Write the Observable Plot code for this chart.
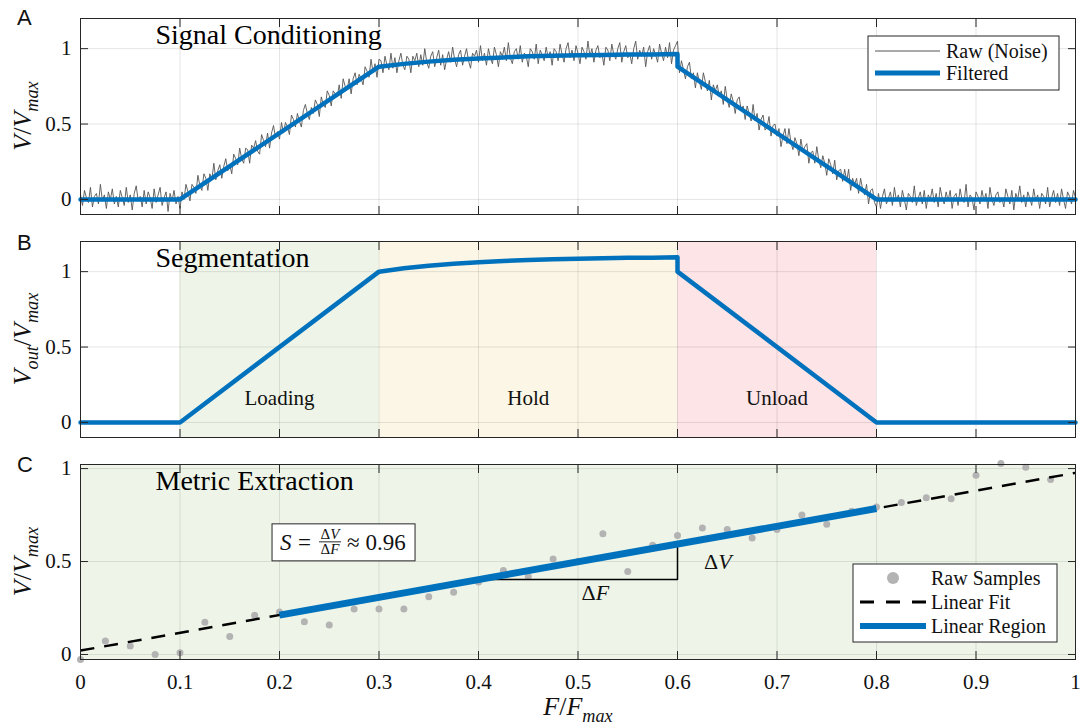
<!DOCTYPE html>
<html>
<head>
<meta charset="utf-8">
<script src="https://cdn.jsdelivr.net/npm/d3@7"></script>
<script src="https://cdn.jsdelivr.net/npm/@observablehq/plot@0.6"></script>
<style>
html,body{margin:0;padding:0;background:#fff;}
#root{position:relative;width:1081px;height:727px;overflow:hidden;background:#fff;}
.panel{position:absolute;left:0;}
.panel svg{display:block;overflow:visible;}
</style>
</head>
<body>
<div id="root">
  <div class="panel" id="pA" style="top:0px"></div>
  <div class="panel" id="pB" style="top:228px"></div>
  <div class="panel" id="pC" style="top:450px"></div>
</div>
<script>
const FONT = "'Liberation Serif','Times New Roman',serif";
const SANS = "'Liberation Sans',Arial,sans-serif";
const BLUE = "#0072BD";
const INK = "#262626";

// ---------- ticks & texts ----------
const xTicks = [0, 0.1, 0.2, 0.3, 0.4, 0.5, 0.6, 0.7, 0.8, 0.9, 1];
const xTickLabels = ["0", "0.1", "0.2", "0.3", "0.4", "0.5", "0.6", "0.7", "0.8", "0.9", "1"];
const yTicks = [0, 0.5, 1];
const yTickLabels = ["0", "0.5", "1"];
const panelLetters = ["A", "B", "C"];
const panelTitles = ["Signal Conditioning", "Segmentation", "Metric Extraction"];

// ---------- panel A : raw (noisy) and filtered signal ----------
const rawStart = 0, rawStep = 0.002;
const rawV = [
  // 0 – 0.1
  0.03,-0.04,0.06,0.01,-0.02,0.08,-0.05,0.02,0.04,-0.03,
  0.10,-0.01,0.03,-0.06,0.05,0.00,0.07,-0.03,0.02,-0.05,
  0.06,0.01,-0.04,0.08,-0.02,0.03,-0.07,0.04,0.09,-0.01,
  0.02,-0.05,0.06,-0.03,0.05,0.01,-0.06,0.07,-0.02,0.03,
  0.08,-0.04,0.01,0.05,-0.08,0.04,-0.01,0.06,-0.03,0.02,
  -0.06,
  // 0.1 – 0.3 loading
  0.05,0.00,0.10,0.05,-0.01,0.10,0.08,0.04,0.16,0.09,
  0.06,0.17,0.14,0.06,0.17,0.13,0.24,0.13,0.19,0.23,
  0.14,0.22,0.27,0.19,0.23,0.17,0.30,0.27,0.23,0.34,
  0.27,0.24,0.34,0.33,0.24,0.36,0.34,0.39,0.32,0.30,
  0.43,0.39,0.35,0.44,0.34,0.44,0.49,0.41,0.45,0.40,
  0.51,0.44,0.51,0.48,0.43,0.56,0.53,0.48,0.57,0.52,
  0.48,0.59,0.63,0.57,0.53,0.61,0.57,0.66,0.63,0.55,
  0.68,0.63,0.61,0.72,0.69,0.62,0.72,0.70,0.68,0.76,
  0.67,0.80,0.75,0.73,0.80,0.70,0.80,0.84,0.76,0.83,
  0.80,0.76,0.88,0.85,0.81,0.93,0.84,0.90,0.81,0.93,
  // 0.3 – 0.6 hold
  0.92,0.84,0.95,0.89,0.86,0.97,0.87,0.94,0.84,0.92,
  0.97,0.89,0.86,0.95,0.93,0.84,0.95,0.92,0.97,0.88,
  0.96,0.89,1.00,0.91,0.87,0.95,0.98,0.88,0.94,0.99,
  0.89,0.96,0.86,0.93,0.98,0.91,1.01,0.93,0.88,0.96,
  0.99,0.89,0.95,1.00,0.92,0.87,0.97,0.95,0.99,0.91,
  1.02,0.92,0.97,0.89,1.00,0.94,0.90,1.01,0.96,0.88,
  0.98,0.95,1.01,0.92,1.04,0.94,0.90,0.98,1.00,0.93,
  1.02,0.91,0.97,0.95,0.88,1.00,0.98,0.93,1.03,0.90,
  0.99,0.96,0.92,1.01,0.94,0.98,0.89,1.00,0.98,0.92,
  1.03,0.96,0.91,1.00,1.04,0.94,0.99,0.92,1.02,0.97,
  0.90,1.01,0.98,0.93,1.05,0.95,1.00,0.91,0.99,1.02,
  0.94,0.97,0.89,1.01,0.99,0.92,1.03,0.96,0.93,1.00,
  1.04,0.91,0.98,1.02,0.94,0.97,0.90,1.00,1.05,0.93,
  0.99,0.95,1.01,0.88,0.98,1.02,0.93,1.00,0.96,0.91,
  1.03,0.97,0.92,1.01,0.94,1.04,0.90,0.99,1.02,1.05,
  // 0.6 – 0.8 unload
  0.84,0.92,0.86,0.80,0.88,0.91,0.80,0.84,0.74,0.84,
  0.78,0.73,0.84,0.78,0.72,0.79,0.66,0.76,0.72,0.76,
  0.68,0.72,0.63,0.75,0.66,0.61,0.70,0.65,0.57,0.66,
  0.68,0.59,0.62,0.53,0.62,0.57,0.52,0.63,0.52,0.57,
  0.46,0.53,0.56,0.46,0.48,0.55,0.42,0.49,0.50,0.42,
  0.47,0.35,0.42,0.47,0.37,0.47,0.38,0.33,0.41,0.37,
  0.29,0.40,0.32,0.35,0.37,0.24,0.31,0.32,0.24,0.35,
  0.26,0.21,0.29,0.24,0.16,0.27,0.23,0.17,0.26,0.13,
  0.19,0.20,0.12,0.20,0.12,0.20,0.06,0.14,0.10,0.14,
  0.04,0.14,0.07,0.03,0.10,-0.03,0.06,0.07,-0.02,-0.05,
  // 0.8 – 1
  0.04,-0.06,0.02,0.07,-0.03,0.01,0.05,-0.04,0.08,-0.01,
  0.03,-0.05,0.06,0.00,-0.07,0.04,0.02,-0.02,0.09,-0.04,
  0.01,0.05,-0.03,0.06,-0.06,0.03,0.00,0.07,-0.02,0.04,
  -0.05,0.08,0.01,-0.03,0.05,-0.01,0.06,-0.06,0.02,0.04,
  -0.04,0.07,0.00,-0.02,0.10,-0.05,0.03,0.01,-0.07,0.05,
  0.02,-0.03,0.06,-0.01,0.04,-0.06,0.08,0.00,-0.04,0.03,
  0.05,-0.02,0.01,-0.05,0.07,0.02,-0.03,0.06,-0.07,0.04,
  0.00,0.09,-0.02,0.03,-0.05,0.05,0.01,-0.04,0.07,-0.01,
  0.03,-0.06,0.04,0.02,-0.03,0.08,-0.05,0.01,0.06,-0.02,
  0.04,-0.04,0.07,0.00,-0.06,0.05,0.02,-0.03,0.06,0.01
];
const filtX = [0, 0.1, 0.3, 0.325, 0.35, 0.375, 0.4, 0.425, 0.45, 0.475, 0.5, 0.525, 0.55, 0.575, 0.6, 0.6, 0.8, 1];
const filtV = [0, 0, 0.88, 0.899, 0.914, 0.927, 0.935, 0.942, 0.949, 0.953, 0.956, 0.958, 0.961, 0.962, 0.964, 0.88, 0, 0];
const legendALabels = ["Raw (Noise)", "Filtered"];

// ---------- panel B : segmentation ----------
const segX = [0, 0.1, 0.3, 0.325, 0.35, 0.375, 0.4, 0.425, 0.45, 0.475, 0.5, 0.525, 0.55, 0.575, 0.6, 0.6, 0.8, 1];
const segV = [0, 0, 1.0, 1.022, 1.039, 1.053, 1.063, 1.071, 1.078, 1.083, 1.086, 1.089, 1.092, 1.093, 1.095, 1.0, 0, 0];
const phaseNames = ["Loading", "Hold", "Unload"];
const phaseStart = [0.1, 0.3, 0.6];
const phaseEnd = [0.3, 0.6, 0.8];
const phaseColors = ["#eef5e8", "#fcf6e6", "#fde4e6"];
const phaseLabelX = [0.2, 0.45, 0.7];
const phaseLabelY = [0.16, 0.16, 0.16];

// ---------- panel C : metric extraction ----------
const sampleX = [0,0.025,0.05,0.075,0.1,0.125,0.15,0.175,0.2,0.225,0.25,0.275,0.3,0.325,0.35,0.375,0.4,0.425,0.45,0.475,
                 0.5,0.525,0.55,0.575,0.6,0.625,0.65,0.675,0.7,0.725,0.75,0.775,0.8,0.825,0.85,0.875,0.9,0.925,0.95,0.975];
const sampleV = [-0.027,0.073,0.045,0.0,0.009,0.174,0.097,0.211,0.228,0.176,0.158,0.244,0.244,0.244,0.31,0.335,0.39,0.452,0.419,0.514,
                 0.50,0.649,0.446,0.588,0.640,0.680,0.673,0.626,0.673,0.750,0.700,0.77,0.793,0.817,0.843,0.838,0.964,1.027,1.007,0.941];
const fitX = [0, 1];
const fitV = [0.021, 0.977];
const regionX = [0.2, 0.8];
const regionV = [0.212, 0.785];
const triX = [0.4, 0.6, 0.6];
const triV = [0.403, 0.403, 0.594];
const deltaLabelX = [0.518, 0.641];
const deltaLabelY = [0.334, 0.497];
const deltaLabelSym = ["F", "V"];
const slopeValue = "0.96";
const slopeBoxAnchor = [0.193, 0.70];
const legendCLabels = ["Raw Samples", "Linear Fit", "Linear Region"];
const bgC = "#eef5e8";

// ---------- helpers ----------
const pts = (xs, ys) => xs.map((x, i) => ({x, y: ys[i]}));

function grids() {
  return [
    Plot.gridX({ticks: xTicks, stroke: "#000", strokeOpacity: 0.1}),
    Plot.gridY({ticks: yTicks, stroke: "#000", strokeOpacity: 0.1})
  ];
}
function axes(showX) {
  return [
    Plot.axisX({ticks: xTicks, anchor: "bottom", tickSize: -8, tickPadding: showX ? 23 : 0,
      tickFormat: showX ? (d => xTickLabels[xTicks.indexOf(d)]) : (() => ""), fontSize: 21, fontFamily: FONT, fill: "#111", label: null}),
    Plot.axisX({ticks: xTicks, anchor: "top", tickSize: -8, tickFormat: () => "", label: null}),
    Plot.axisY({ticks: yTicks, anchor: "left", tickSize: -8, tickPadding: 17,
      tickFormat: d => yTickLabels[yTicks.indexOf(d)], fontSize: 21, fontFamily: FONT, fill: "#111", label: null}),
    Plot.axisY({ticks: yTicks, anchor: "right", tickSize: -8, tickFormat: () => "", label: null}),
    Plot.frame({stroke: INK, strokeWidth: 1})
  ];
}
function title(t) {
  return Plot.text([t], {frameAnchor: "top-left", dx: 75, dy: 25, lineAnchor: "bottom", textAnchor: "start",
    fontSize: 28, fontFamily: FONT, fill: "#000"});
}
const baseStyle = {fontFamily: FONT, fontSize: "21px", background: "transparent", color: INK, overflow: "visible"};

function serifTicks(chart) {
  const s = d3.select(chart);
  s.selectAll("[aria-label$='tick label']").style("font-family", FONT).style("font-variant", "normal");
  s.selectAll("[aria-label$='tick label'] text").style("font-family", FONT);
}
function mathText(sel, parts, size, attrs) {
  const t = sel.append("text").attr("font-family", FONT).attr("font-size", size).attr("fill", "#111")
    .attr("text-anchor", "start");
  for (const [k, v] of Object.entries(attrs)) t.attr(k, v);
  let shifted = 0;
  for (const p of parts) {
    const s = t.append("tspan").text(p.t);
    if (p.it) s.attr("font-style", "italic");
    const want = p.sub ? size * 0.28 : 0;
    if (want !== shifted) { s.attr("dy", want - shifted); shifted = want; }
    if (p.sub) s.attr("font-size", size * 0.7);
  }
  return t;
}
function letter(svg, t, baseline) {
  svg.append("text").attr("x", 17).attr("y", baseline).attr("font-family", SANS).attr("font-size", 22)
    .attr("text-anchor", "start").attr("fill", "#111").text(t);
}

// ---------- Panel A ----------
const chartA = Plot.plot({
  width: 1081, height: 228, marginLeft: 80, marginRight: 6, marginTop: 18, marginBottom: 14,
  x: {domain: [0, 1]}, y: {domain: [-0.1, 1.2]},
  style: baseStyle,
  marks: [
    ...grids(),
    Plot.line(rawV.map((v, i) => ({x: rawStart + i * rawStep, y: v})), {x: "x", y: "y", stroke: "#555", strokeWidth: 0.9}),
    Plot.line(pts(filtX, filtV), {x: "x", y: "y", stroke: BLUE, strokeWidth: 4.5}),
    title(panelTitles[0]),
    ...axes(false)
  ]
});
document.getElementById("pA").appendChild(chartA);
serifTicks(chartA);
{
  const svg = d3.select(chartA);
  letter(svg, panelLetters[0], 25);
  mathText(svg, [{t: "V", it: 1}, {t: "/"}, {t: "V", it: 1}, {t: "max", it: 1, sub: 1}], 26,
    {transform: "translate(31,116) rotate(-90)", "text-anchor": "middle"});
  const g = svg.append("g");
  g.append("rect").attr("x", 868).attr("y", 36).attr("width", 191).attr("height", 54)
    .attr("fill", "#fff").attr("stroke", INK).attr("stroke-width", 1);
  g.append("line").attr("x1", 875).attr("x2", 940).attr("y1", 51).attr("y2", 51).attr("stroke", "#555").attr("stroke-width", 1);
  g.append("line").attr("x1", 875).attr("x2", 940).attr("y1", 73).attr("y2", 73).attr("stroke", BLUE).attr("stroke-width", 5);
  legendALabels.forEach((t, i) => g.append("text").attr("x", 946).attr("y", 51 + 22 * i).attr("dy", "0.35em")
    .attr("text-anchor", "start").attr("font-family", FONT).attr("font-size", 20).attr("fill", "#111").text(t));
}

// ---------- Panel B ----------
const phases = phaseNames.map((n, i) => ({name: n, x1: phaseStart[i], x2: phaseEnd[i], color: phaseColors[i], lx: phaseLabelX[i], ly: phaseLabelY[i]}));
const chartB = Plot.plot({
  width: 1081, height: 222, marginLeft: 80, marginRight: 6, marginTop: 13, marginBottom: 13,
  x: {domain: [0, 1]}, y: {domain: [-0.1, 1.2]}, color: {type: "identity"},
  style: baseStyle,
  marks: [
    Plot.rect(phases, {x1: "x1", x2: "x2", fill: "color"}),
    ...grids(),
    Plot.text(phases, {x: "lx", y: "ly", text: "name", fontSize: 21, fontFamily: FONT, fill: "#111", lineAnchor: "middle"}),
    Plot.line(pts(segX, segV), {x: "x", y: "y", stroke: BLUE, strokeWidth: 4.5}),
    title(panelTitles[1]),
    ...axes(false)
  ]
});
document.getElementById("pB").appendChild(chartB);
serifTicks(chartB);
{
  const svg = d3.select(chartB);
  letter(svg, panelLetters[1], 22);
  mathText(svg, [{t: "V", it: 1}, {t: "out", it: 1, sub: 1}, {t: "/"}, {t: "V", it: 1}, {t: "max", it: 1, sub: 1}], 26,
    {transform: "translate(31,111) rotate(-90)", "text-anchor": "middle"});
}

// ---------- Panel C ----------
const chartC = Plot.plot({
  width: 1081, height: 277, marginLeft: 80, marginRight: 6, marginTop: 14, marginBottom: 68,
  x: {domain: [0, 1]}, y: {domain: [-0.027, 1.022]},
  style: baseStyle,
  marks: [
    Plot.frame({fill: bgC, stroke: null}),
    ...grids(),
    Plot.dot(pts(sampleX, sampleV), {x: "x", y: "y", r: 3.5, fill: "#b3b3b3", stroke: null}),
    Plot.line(pts(fitX, fitV), {x: "x", y: "y", stroke: "#000", strokeWidth: 2.5, strokeDasharray: "14,10", strokeLinecap: "butt"}),
    Plot.line(pts(triX, triV), {x: "x", y: "y", stroke: "#000", strokeWidth: 1.5, strokeLinejoin: "miter"}),
    Plot.line(pts(regionX, regionV), {x: "x", y: "y", stroke: BLUE, strokeWidth: 7, strokeLinecap: "butt"}),
    title(panelTitles[2]),
    ...axes(true)
  ]
});
document.getElementById("pC").appendChild(chartC);
serifTicks(chartC);
{
  const svg = d3.select(chartC);
  const sx = chartC.scale("x"), sy = chartC.scale("y");
  letter(svg, panelLetters[2], 22);
  mathText(svg, [{t: "V", it: 1}, {t: "/"}, {t: "V", it: 1}, {t: "max", it: 1, sub: 1}], 26,
    {transform: "translate(31,111.5) rotate(-90)", "text-anchor": "middle"});
  mathText(svg, [{t: "F", it: 1}, {t: "/"}, {t: "F", it: 1}, {t: "max", it: 1, sub: 1}], 26,
    {x: 578, y: 265, "text-anchor": "middle"});
  // delta labels
  deltaLabelSym.forEach((s, i) => {
    mathText(svg, [{t: "Δ"}, {t: s, it: 1}], 22,
      {x: sx.apply(deltaLabelX[i]), y: sy.apply(deltaLabelY[i]), dy: "0.35em", "text-anchor": "middle"});
  });
  // slope box
  const bx = sx.apply(slopeBoxAnchor[0]), by = sy.apply(slopeBoxAnchor[1]);
  const f = svg.append("g").attr("transform", `translate(${bx},${by})`);
  f.append("rect").attr("width", 143).attr("height", 37).attr("fill", "#fff").attr("stroke", INK).attr("stroke-width", 1);
  mathText(f, [{t: "S", it: 1}], 23, {x: 8, y: 26});
  mathText(f, [{t: "="}], 23, {x: 26, y: 26});
  mathText(f, [{t: "Δ"}, {t: "V", it: 1}], 15, {x: 58, y: 15, "text-anchor": "middle"});
  f.append("line").attr("x1", 47).attr("x2", 69).attr("y1", 18).attr("y2", 18).attr("stroke", "#111").attr("stroke-width", 0.9);
  mathText(f, [{t: "Δ"}, {t: "F", it: 1}], 15, {x: 58, y: 30, "text-anchor": "middle"});
  mathText(f, [{t: "≈ " + slopeValue}], 23, {x: 75, y: 26});
  // legend
  const g = svg.append("g");
  g.append("rect").attr("x", 853).attr("y", 114).attr("width", 204).attr("height", 78)
    .attr("fill", "#fff").attr("stroke", INK).attr("stroke-width", 1);
  g.append("circle").attr("cx", 893).attr("cy", 128).attr("r", 6).attr("fill", "#b3b3b3");
  g.append("line").attr("x1", 860).attr("x2", 926).attr("y1", 152).attr("y2", 152).attr("stroke", "#000")
    .attr("stroke-width", 3).attr("stroke-dasharray", "14,12");
  g.append("line").attr("x1", 860).attr("x2", 926).attr("y1", 176).attr("y2", 176).attr("stroke", BLUE).attr("stroke-width", 6);
  legendCLabels.forEach((t, i) => g.append("text").attr("x", 931).attr("y", 128 + 24 * i).attr("dy", "0.35em")
    .attr("text-anchor", "start").attr("font-family", FONT).attr("font-size", 20).attr("fill", "#111").text(t));
}
</script>
</body>
</html>
